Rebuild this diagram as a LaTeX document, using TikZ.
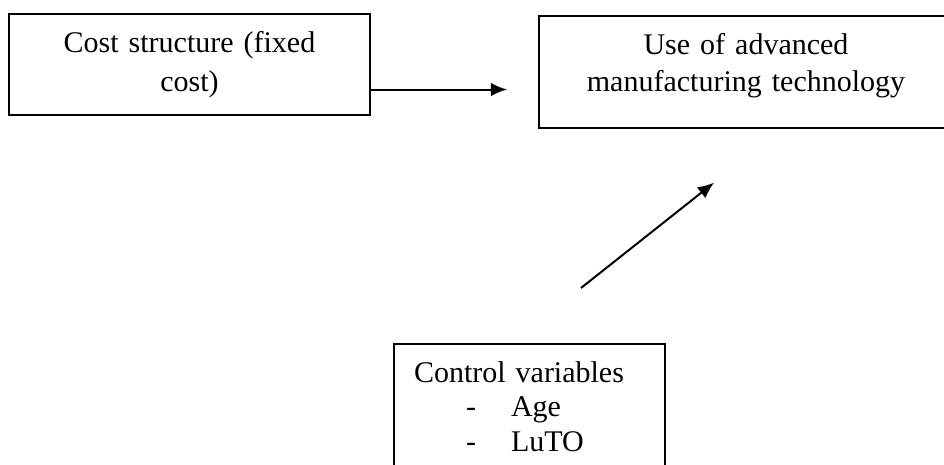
\documentclass[tikz,border=0pt]{standalone}
\usepackage{fontspec}
\setmainfont{Liberation Serif}
\usetikzlibrary{arrows.meta}
\tikzset{>={Latex[length=6.5pt,width=5.5pt]}}

\begin{document}
\begin{tikzpicture}[x=0.4pt,y=-0.4pt,
  box/.style={draw,line width=0.8pt,rectangle,anchor=north west,inner ysep=7pt},
  link/.style={->,line width=0.8pt}]
  \useasboundingbox (0,0) rectangle (944,465);
  \clip (0,0) rectangle (944,465);

  % Boxes
  \node[box,align=center,inner xsep=4pt,text width=136.4pt,
    font=\fontsize{12}{15.4}\selectfont] (Cost) at (8,13)
    {Cost structure (fixed\\ cost)};
  \node[box,align=center,inner xsep=4pt,text width=157.6pt,text depth=22.2pt,
    font=\fontsize{12}{14.8}\selectfont] (AMT) at (538,15)
    {Use of advanced\\ manufacturing technology};
  \node[box,align=left,inner xsep=8pt,text width=92.4pt,text depth=32pt,
    font=\fontsize{12}{13.8}\selectfont] (Control) at (393,343)
    {Control variables\\
     \makebox[38.8pt][l]{\hspace*{20.8pt}-}Age\\
     \makebox[38.8pt][l]{\hspace*{20.8pt}-}LuTO};

  % Arrows
  \coordinate (CostOut) at ([yshift=-10pt]Cost.east);
  \coordinate (AMTIn) at (CostOut -| AMT.west);
  \draw[link] (CostOut) -- ([xshift=-12.4pt]AMTIn);
  \draw[link] ([shift={(51.5,-55)}]Control.north) -- ([shift={(-32,54)}]AMT.south);
\end{tikzpicture}
\end{document}
